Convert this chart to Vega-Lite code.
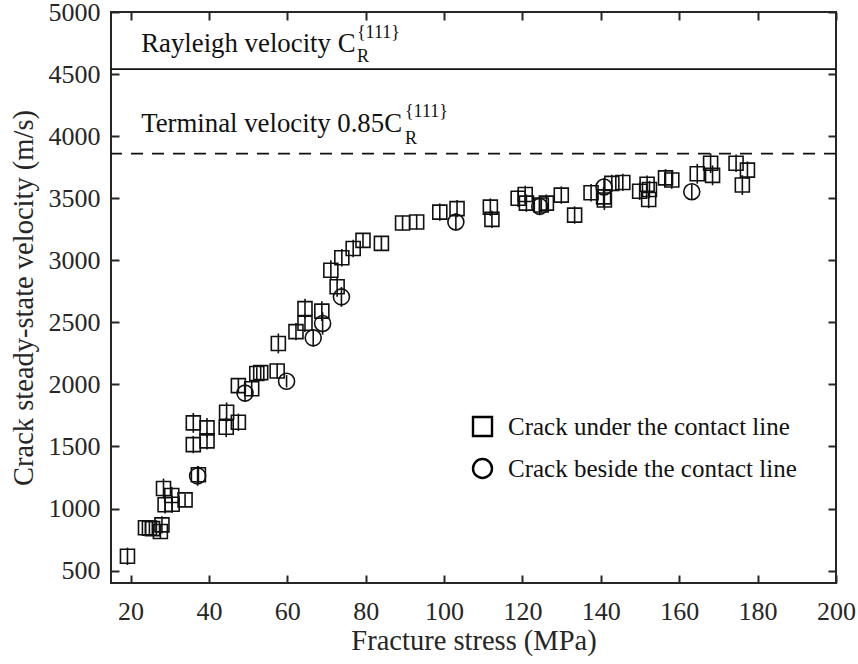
{
  "$schema": "https://vega.github.io/schema/vega-lite/v6.json",
  "width": 725,
  "height": 571,
  "autosize": {"type": "none"},
  "padding": {"left": 111, "top": 12, "right": 22, "bottom": 81},
  "background": "white",
  "config": {
    "font": "Liberation Serif, Times New Roman, serif",
    "view": {"stroke": "#262626", "strokeWidth": 2},
    "axis": {
      "grid": false,
      "domain": false,
      "tickColor": "#262626",
      "tickWidth": 2,
      "labelColor": "#262626",
      "titleColor": "#262626",
      "labelFont": "Liberation Serif, Times New Roman, serif",
      "titleFont": "Liberation Serif, Times New Roman, serif",
      "labelFontSize": 26,
      "titleFontSize": 28.5,
      "titleFontWeight": "normal",
      "labelFlush": false,
      "labelOverlap": false,
      "format": "d"
    },
    "legend": {
      "labelFont": "Liberation Serif, Times New Roman, serif",
      "labelFontSize": 25,
      "labelColor": "#111111",
      "labelLimit": 0
    },
    "text": {"font": "Liberation Serif, Times New Roman, serif"}
  },
  "datasets": {
    "pts": [
      {"stress": 19.2, "v": 615, "e": 70, "type": "Crack under the contact line"},
      {"stress": 23.8, "v": 845, "e": 60, "type": "Crack under the contact line"},
      {"stress": 24.8, "v": 842, "e": 60, "type": "Crack under the contact line"},
      {"stress": 25.6, "v": 838, "e": 60, "type": "Crack under the contact line"},
      {"stress": 27.6, "v": 815, "e": 60, "type": "Crack under the contact line"},
      {"stress": 28.0, "v": 868, "e": 70, "type": "Crack under the contact line"},
      {"stress": 28.4, "v": 1161, "e": 80, "type": "Crack under the contact line"},
      {"stress": 28.8, "v": 1030, "e": 70, "type": "Crack under the contact line"},
      {"stress": 30.5, "v": 1105, "e": 70, "type": "Crack under the contact line"},
      {"stress": 30.6, "v": 1035, "e": 70, "type": "Crack under the contact line"},
      {"stress": 33.9, "v": 1070, "e": 50, "type": "Crack under the contact line"},
      {"stress": 37.3, "v": 1272, "e": 70, "type": "Crack under the contact line"},
      {"stress": 36.0, "v": 1690, "e": 80, "type": "Crack under the contact line"},
      {"stress": 36.0, "v": 1515, "e": 70, "type": "Crack under the contact line"},
      {"stress": 39.5, "v": 1650, "e": 80, "type": "Crack under the contact line"},
      {"stress": 39.5, "v": 1545, "e": 70, "type": "Crack under the contact line"},
      {"stress": 44.5, "v": 1775, "e": 80, "type": "Crack under the contact line"},
      {"stress": 44.4, "v": 1655, "e": 80, "type": "Crack under the contact line"},
      {"stress": 47.5, "v": 1695, "e": 70, "type": "Crack under the contact line"},
      {"stress": 47.5, "v": 1990, "e": 60, "type": "Crack under the contact line"},
      {"stress": 50.9, "v": 1965, "e": 70, "type": "Crack under the contact line"},
      {"stress": 52.2, "v": 2088, "e": 50, "type": "Crack under the contact line"},
      {"stress": 53.2, "v": 2095, "e": 60, "type": "Crack under the contact line"},
      {"stress": 57.4, "v": 2108, "e": 60, "type": "Crack under the contact line"},
      {"stress": 57.7, "v": 2330, "e": 80, "type": "Crack under the contact line"},
      {"stress": 62.2, "v": 2425, "e": 70, "type": "Crack under the contact line"},
      {"stress": 64.5, "v": 2492, "e": 70, "type": "Crack under the contact line"},
      {"stress": 64.5, "v": 2610, "e": 80, "type": "Crack under the contact line"},
      {"stress": 68.8, "v": 2590, "e": 80, "type": "Crack under the contact line"},
      {"stress": 71.1, "v": 2920, "e": 80, "type": "Crack under the contact line"},
      {"stress": 72.7, "v": 2786, "e": 80, "type": "Crack under the contact line"},
      {"stress": 73.9, "v": 3020, "e": 70, "type": "Crack under the contact line"},
      {"stress": 76.8, "v": 3095, "e": 70, "type": "Crack under the contact line"},
      {"stress": 79.3, "v": 3160, "e": 60, "type": "Crack under the contact line"},
      {"stress": 84.0, "v": 3136, "e": 60, "type": "Crack under the contact line"},
      {"stress": 89.4, "v": 3300, "e": 60, "type": "Crack under the contact line"},
      {"stress": 93.0, "v": 3308, "e": 60, "type": "Crack under the contact line"},
      {"stress": 98.9, "v": 3388, "e": 70, "type": "Crack under the contact line"},
      {"stress": 103.3, "v": 3416, "e": 70, "type": "Crack under the contact line"},
      {"stress": 111.8, "v": 3428, "e": 70, "type": "Crack under the contact line"},
      {"stress": 112.2, "v": 3329, "e": 70, "type": "Crack under the contact line"},
      {"stress": 118.9, "v": 3500, "e": 70, "type": "Crack under the contact line"},
      {"stress": 120.7, "v": 3530, "e": 70, "type": "Crack under the contact line"},
      {"stress": 121.0, "v": 3460, "e": 70, "type": "Crack under the contact line"},
      {"stress": 124.8, "v": 3445, "e": 60, "type": "Crack under the contact line"},
      {"stress": 126.1, "v": 3460, "e": 70, "type": "Crack under the contact line"},
      {"stress": 129.9, "v": 3525, "e": 70, "type": "Crack under the contact line"},
      {"stress": 133.3, "v": 3364, "e": 70, "type": "Crack under the contact line"},
      {"stress": 137.5, "v": 3544, "e": 70, "type": "Crack under the contact line"},
      {"stress": 140.7, "v": 3511, "e": 80, "type": "Crack under the contact line"},
      {"stress": 140.9, "v": 3485, "e": 80, "type": "Crack under the contact line"},
      {"stress": 142.8, "v": 3619, "e": 70, "type": "Crack under the contact line"},
      {"stress": 145.6, "v": 3627, "e": 70, "type": "Crack under the contact line"},
      {"stress": 149.9, "v": 3556, "e": 70, "type": "Crack under the contact line"},
      {"stress": 151.8, "v": 3612, "e": 70, "type": "Crack under the contact line"},
      {"stress": 152.2, "v": 3490, "e": 70, "type": "Crack under the contact line"},
      {"stress": 152.4, "v": 3570, "e": 70, "type": "Crack under the contact line"},
      {"stress": 156.5, "v": 3664, "e": 70, "type": "Crack under the contact line"},
      {"stress": 158.1, "v": 3646, "e": 70, "type": "Crack under the contact line"},
      {"stress": 164.6, "v": 3697, "e": 80, "type": "Crack under the contact line"},
      {"stress": 168.0, "v": 3782, "e": 80, "type": "Crack under the contact line"},
      {"stress": 168.5, "v": 3684, "e": 80, "type": "Crack under the contact line"},
      {"stress": 174.5, "v": 3782, "e": 70, "type": "Crack under the contact line"},
      {"stress": 177.4, "v": 3726, "e": 70, "type": "Crack under the contact line"},
      {"stress": 176.1, "v": 3606, "e": 80, "type": "Crack under the contact line"},
      {"stress": 37.1, "v": 1263, "e": 80, "type": "Crack beside the contact line"},
      {"stress": 49.2, "v": 1930, "e": 70, "type": "Crack beside the contact line"},
      {"stress": 59.8, "v": 2025, "e": 50, "type": "Crack beside the contact line"},
      {"stress": 66.6, "v": 2375, "e": 70, "type": "Crack beside the contact line"},
      {"stress": 69.0, "v": 2491, "e": 90, "type": "Crack beside the contact line"},
      {"stress": 73.8, "v": 2705, "e": 80, "type": "Crack beside the contact line"},
      {"stress": 103.0, "v": 3308, "e": 70, "type": "Crack beside the contact line"},
      {"stress": 124.4, "v": 3434, "e": 70, "type": "Crack beside the contact line"},
      {"stress": 140.8, "v": 3590, "e": 70, "type": "Crack beside the contact line"},
      {"stress": 163.2, "v": 3552, "e": 60, "type": "Crack beside the contact line"}
    ],
    "labelsMain": [
      {"stress": 22.7, "v": 4680, "t": "Rayleigh velocity C"},
      {"stress": 22.7, "v": 4035, "t": "Terminal velocity 0.85C"}
    ],
    "labelsSmall": [
      {"stress": 77.75, "v": 4788, "t": "{111}"},
      {"stress": 77.75, "v": 4599, "t": "R"},
      {"stress": 90.0, "v": 4156, "t": "{111}"},
      {"stress": 90.0, "v": 3936, "t": "R"}
    ]
  },
  "resolve": {"axis": {"x": "independent", "y": "independent"}},
  "layer": [
    {
      "data": {"values": [{"level": 4540}]},
      "mark": {"type": "rule", "color": "#111111", "strokeWidth": 1.8},
      "encoding": {
        "y": {"field": "level", "type": "quantitative", "axis": null,
              "scale": {"domain": [400, 5000], "nice": false, "zero": false}}
      }
    },
    {
      "data": {"values": [{"level": 3859}]},
      "mark": {"type": "rule", "color": "#111111", "strokeWidth": 1.8, "strokeDash": [12, 9]},
      "encoding": {
        "y": {"field": "level", "type": "quantitative", "axis": null}
      }
    },
    {
      "data": {"name": "pts"},
      "mark": {"type": "errorbar", "color": "#111111", "thickness": 1.6},
      "encoding": {
        "x": {"field": "stress", "type": "quantitative", "axis": null},
        "y": {"field": "v", "type": "quantitative", "axis": null},
        "yError": {"field": "e"}
      }
    },
    {
      "data": {"name": "pts"},
      "transform": [{"filter": "datum.type === 'Crack under the contact line'"}],
      "mark": {"type": "point", "filled": false, "color": "#111111", "strokeWidth": 1.6, "size": 196, "opacity": 1},
      "encoding": {
        "x": {"field": "stress", "type": "quantitative",
              "scale": {"domain": [15, 200], "nice": false, "zero": false},
              "axis": {"orient": "bottom", "values": [20, 40, 60, 80, 100, 120, 140, 160, 180, 200],
                       "tickSize": -8, "labelPadding": 23, "title": "Fracture stress (MPa)", "titlePadding": 2}},
        "y": {"field": "v", "type": "quantitative",
              "axis": {"orient": "left", "values": [500, 1000, 1500, 2000, 2500, 3000, 3500, 4000, 4500, 5000],
                       "tickSize": -8, "labelPadding": 19, "title": "Crack steady-state velocity (m/s)", "titlePadding": 10}},
        "shape": {"field": "type", "type": "nominal",
                  "scale": {"domain": ["Crack under the contact line", "Crack beside the contact line"], "range": ["square", "circle"]},
                  "legend": {"title": null, "orient": "none", "legendX": 359, "legendY": 402,
                             "symbolSize": 361, "symbolStrokeWidth": 2.4, "symbolStrokeColor": "#000000",
                             "symbolFillColor": "transparent", "labelOffset": 13, "rowPadding": 13, "padding": 0, "labelLimit": 0}}
      }
    },
    {
      "data": {"name": "pts"},
      "transform": [{"filter": "datum.type === 'Crack beside the contact line'"}],
      "mark": {"type": "point", "filled": false, "color": "#111111", "strokeWidth": 1.6, "size": 256, "opacity": 1},
      "encoding": {
        "x": {"field": "stress", "type": "quantitative", "axis": null},
        "y": {"field": "v", "type": "quantitative", "axis": null},
        "shape": {"field": "type", "type": "nominal"}
      }
    },
    {
      "data": {"name": "labelsMain"},
      "mark": {"type": "text", "align": "left", "baseline": "alphabetic", "fontSize": 26.8, "color": "#111111", "font": "Liberation Serif, Times New Roman, serif"},
      "encoding": {
        "x": {"field": "stress", "type": "quantitative",
              "axis": {"orient": "top", "values": [20, 40, 60, 80, 100, 120, 140, 160, 180, 200],
                       "tickSize": -8, "labels": false, "title": null}},
        "y": {"field": "v", "type": "quantitative",
              "axis": {"orient": "right", "values": [500, 1000, 1500, 2000, 2500, 3000, 3500, 4000, 4500, 5000],
                       "tickSize": -8, "labels": false, "title": null}},
        "text": {"field": "t"}
      }
    },
    {
      "data": {"name": "labelsSmall"},
      "mark": {"type": "text", "align": "left", "baseline": "alphabetic", "fontSize": 18, "color": "#111111", "font": "Liberation Serif, Times New Roman, serif"},
      "encoding": {
        "x": {"field": "stress", "type": "quantitative", "axis": null},
        "y": {"field": "v", "type": "quantitative", "axis": null},
        "text": {"field": "t"}
      }
    }
  ]
}
